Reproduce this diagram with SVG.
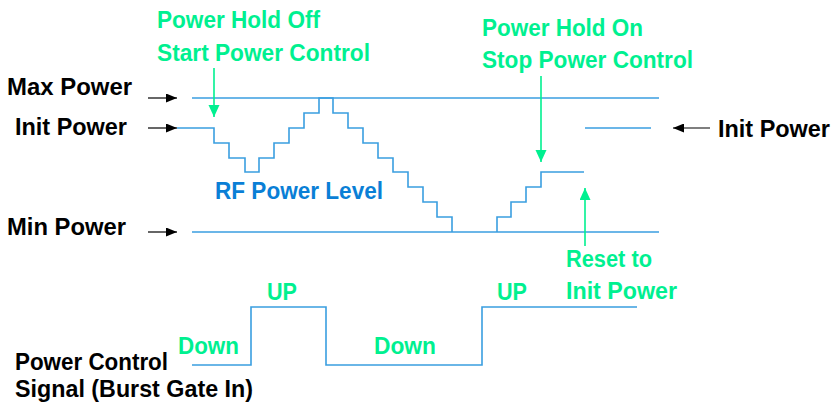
<svg xmlns="http://www.w3.org/2000/svg" width="834" height="410" viewBox="0 0 834 410">
<style>
text{font-family:"Liberation Sans",Arial,sans-serif;font-weight:bold;font-size:23px}
.k{fill:#000}
.g{fill:#00f090}
.b{fill:#0a7fd6}
.wave{fill:none;stroke:#3a9ee0;stroke-width:1.6}
.ka{stroke:#000;stroke-width:1.2;fill:none}
.ga{stroke:#00f090;stroke-width:1.6;fill:none}
</style>
<defs>
<marker id="kh" markerWidth="11" markerHeight="9" refX="11" refY="4.5" orient="auto" markerUnits="userSpaceOnUse">
<path d="M0,0 L11,4.5 L0,9 Z" fill="#000"/>
</marker>
<marker id="gh" markerWidth="12" markerHeight="12" refX="12" refY="5.5" orient="auto" markerUnits="userSpaceOnUse">
<path d="M0,0 L12,5.5 L0,11 Z" fill="#00f090"/>
</marker>
</defs>
<g id="levels">
<line class="wave" x1="192" y1="98" x2="659" y2="98"/>
<line class="wave" x1="192" y1="232" x2="659" y2="232"/>
<line class="wave" x1="585" y1="128" x2="651" y2="128"/>
</g>
<g id="rf-power">
<path class="wave" d="M177,128 H214 V143 H229 V158 H245 V172 H259 V158 H274 V143 H289 V128 H304 V113 H319 V98 H333 V113 H348 V128 H363 V143 H378 V158 H393 V172 H408 V187 H423 V202 H437 V217 H452 V232"/>
<path class="wave" d="M497,232 V217 H511 V202 H526 V187 H541 V172 H584"/>
<text class="b" x="215" y="199" textLength="168" lengthAdjust="spacingAndGlyphs">RF Power Level</text>
</g>
<g id="signal">
<path class="wave" d="M192,365 H251 V307 H326 V365 H482 V307 H637"/>
<text class="g" x="178" y="354" textLength="61" lengthAdjust="spacingAndGlyphs">Down</text>
<text class="g" x="267" y="300" textLength="30" lengthAdjust="spacingAndGlyphs">UP</text>
<text class="g" x="374" y="354" textLength="62" lengthAdjust="spacingAndGlyphs">Down</text>
<text class="g" x="497" y="300" textLength="30" lengthAdjust="spacingAndGlyphs">UP</text>
</g>
<g id="connectors">
<line class="ka" x1="148" y1="98" x2="177" y2="98" marker-end="url(#kh)"/>
<line class="ka" x1="148" y1="128" x2="177" y2="128" marker-end="url(#kh)"/>
<line class="ka" x1="148" y1="232" x2="177" y2="232" marker-end="url(#kh)"/>
<line class="ka" x1="710" y1="128" x2="673" y2="128" marker-end="url(#kh)"/>
<line class="ga" x1="214" y1="68" x2="214" y2="117" marker-end="url(#gh)"/>
<line class="ga" x1="541" y1="76" x2="541" y2="162" marker-end="url(#gh)"/>
<line class="ga" x1="585" y1="246" x2="585" y2="188" marker-end="url(#gh)"/>
</g>
<g id="label-max"><text class="k" x="7" y="95" textLength="125" lengthAdjust="spacingAndGlyphs">Max Power</text></g>
<g id="label-init"><text class="k" x="15" y="135" textLength="112" lengthAdjust="spacingAndGlyphs">Init Power</text></g>
<g id="label-min"><text class="k" x="7" y="235" textLength="119" lengthAdjust="spacingAndGlyphs">Min Power</text></g>
<g id="label-init-right"><text class="k" x="718" y="137" textLength="112" lengthAdjust="spacingAndGlyphs">Init Power</text></g>
<g id="note-hold-off">
<text class="g" x="157" y="28" textLength="163" lengthAdjust="spacingAndGlyphs">Power Hold Off</text>
<text class="g" x="157" y="61" textLength="213" lengthAdjust="spacingAndGlyphs">Start Power Control</text>
</g>
<g id="note-hold-on">
<text class="g" x="482" y="36" textLength="161" lengthAdjust="spacingAndGlyphs">Power Hold On</text>
<text class="g" x="482" y="68" textLength="211" lengthAdjust="spacingAndGlyphs">Stop Power Control</text>
</g>
<g id="note-reset">
<text class="g" x="566" y="267" textLength="86" lengthAdjust="spacingAndGlyphs">Reset to</text>
<text class="g" x="566" y="299" textLength="111" lengthAdjust="spacingAndGlyphs">Init Power</text>
</g>
<g id="label-signal">
<text class="k" x="15" y="370" textLength="153" lengthAdjust="spacingAndGlyphs">Power Control</text>
<text class="k" x="15" y="397" textLength="238" lengthAdjust="spacingAndGlyphs">Signal (Burst Gate In)</text>
</g>
</svg>
